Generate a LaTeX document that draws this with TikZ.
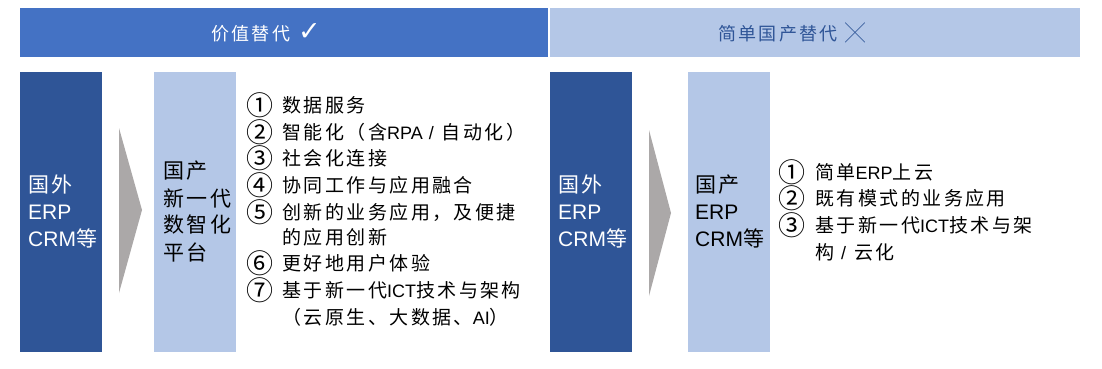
\documentclass[tikz,border=0pt]{standalone}
\usepackage{fontspec}
\setmainfont{Liberation Sans}
\newfontfamily\cjk[LetterSpace=13]{Noto Sans CJK SC}
\newfontfamily\cjkn{Noto Sans CJK SC}
\newfontfamily\symf{DejaVu Sans}
\definecolor{bannerA}{HTML}{4472C4}
\definecolor{lightB}{HTML}{B4C7E7}
\definecolor{darkB}{HTML}{2F5597}
\definecolor{triG}{HTML}{ABA8A8}
\definecolor{txtB}{HTML}{2F5597}
\newcommand\latn[1]{{\fontsize{18}{20}\selectfont #1}}
\newcommand\circn[1]{{\cjkn\fontsize{27}{27}\selectfont #1}}
\begin{document}
\begin{tikzpicture}[x=1pt,y=-1pt,
  box/.style={rectangle, inner sep=0, draw=none, minimum width=82pt, minimum height=280pt},
  banner/.style={rectangle, inner sep=0, draw=none, minimum height=49pt},
  txt/.style={anchor=west, inner sep=0, font=\fontsize{19}{22}\selectfont},
  btxt/.style={anchor=west, inner sep=0, font=\fontsize{21}{24}\selectfont},
  ttl/.style={anchor=center, inner sep=0, font=\fontsize{18}{22}\selectfont}]
\useasboundingbox (0,0) rectangle (1102,369);
\fill[white] (0,0) rectangle (1102,369);
% banners
\node[banner, fill=bannerA, minimum width=528pt] (ban1) at (284,32.5) {};
\node[banner, fill=lightB, minimum width=530pt] (ban2) at (815,32.5) {};
\node[ttl, text=white] (t1) at (266,33) {\cjk 价值替代\hspace{8pt}{\symf\fontsize{27}{27}\selectfont ✓}};
\node[ttl, text=txtB] (t2) at (792,33) {\cjk 简单国产替代\hspace{8pt}{\cjkn\fontsize{20}{20}\selectfont ╳}};
% boxes
\node[box, fill=darkB] (d1) at (61,212) {};
\node[box, fill=lightB] (l1) at (195,212) {};
\node[box, fill=darkB] (d2) at (591,212) {};
\node[box, fill=lightB] (l2) at (729,212) {};
% triangles
\coordinate (a1t) at (119,128); \coordinate (a1p) at (142,210); \coordinate (a1b) at (119,293);
\fill[triG] (a1t) -- (a1p) -- (a1b) -- cycle;
\coordinate (a2t) at (649,130); \coordinate (a2p) at (671,213); \coordinate (a2b) at (649,296);
\fill[triG] (a2t) -- (a2p) -- (a2b) -- cycle;
% dark box 1 text
\node[btxt, text=white] (d1a) at (28,185) {\cjk 国外};
\node[btxt, text=white] (d1b) at (28,212) {ERP};
\node[btxt, text=white] (d1c) at (28,238) {CRM{\cjk 等}};
% light box 1 text
\node[btxt] (l1a) at (163,171) {\cjk 国产};
\node[btxt] (l1b) at (163,198) {\cjk 新一代};
\node[btxt] (l1c) at (163,225) {\cjk 数智化};
\node[btxt] (l1d) at (163,252) {\cjk 平台};
% dark box 2 text
\node[btxt, text=white] (d2a) at (558,185) {\cjk 国外};
\node[btxt, text=white] (d2b) at (558,212) {ERP};
\node[btxt, text=white] (d2c) at (558,238) {CRM{\cjk 等}};
% light box 2 text
\node[btxt] (l2a) at (695,185) {\cjk 国产};
\node[btxt] (l2b) at (695,212) {ERP};
\node[btxt] (l2c) at (695,238) {CRM{\cjk 等}};
% left list
\node[txt] (n1) at (246,105) {\circn{①}};
\node[txt] (n2) at (246,132) {\circn{②}};
\node[txt] (n3) at (246,158) {\circn{③}};
\node[txt] (n4) at (246,185) {\circn{④}};
\node[txt] (n5) at (246,212) {\circn{⑤}};
\node[txt] (n6) at (246,263) {\circn{⑥}};
\node[txt] (n7) at (246,290) {\circn{⑦}};
\node[txt] (i1) at (282,105) {\cjk 数据服务};
\node[txt] (i2) at (282,132) {{\cjk 智能化（含}\latn{RPA\hspace{6pt}/\hspace{8pt}}{\cjk 自动化）}};
\node[txt] (i3) at (282,158) {\cjk 社会化连接};
\node[txt] (i4) at (282,185) {\cjk 协同工作与应用融合};
\node[txt] (i5) at (282,212) {\cjk 创新的业务应用，及便捷};
\node[txt] (i5b) at (282,237) {\cjk 的应用创新};
\node[txt] (i6) at (282,263) {\cjk 更好地用户体验};
\node[txt] (i7) at (282,290) {{\cjk 基于新一代}\latn{ICT}{\cjk 技术与架构}};
\node[txt] (i7b) at (282,317) {{\cjk （云原生、大数据、}\latn{AI}{\cjk ）}};
% right list
\node[txt] (m1) at (778,172) {\circn{①}};
\node[txt] (m2) at (778,198) {\circn{②}};
\node[txt] (m3) at (778,225) {\circn{③}};
\node[txt] (j1) at (815,172) {{\cjk 简单}\latn{ERP}{\cjk 上云}};
\node[txt] (j2) at (815,198) {\cjk 既有模式的业务应用};
\node[txt] (j3) at (815,225) {{\cjk 基于新一代}\latn{ICT}{\cjk 技术与架}};
\node[txt] (j3b) at (815,252) {{\cjk 构}\hspace{7pt}\latn{/}\hspace{8pt}{\cjk 云化}};
\end{tikzpicture}
\end{document}
